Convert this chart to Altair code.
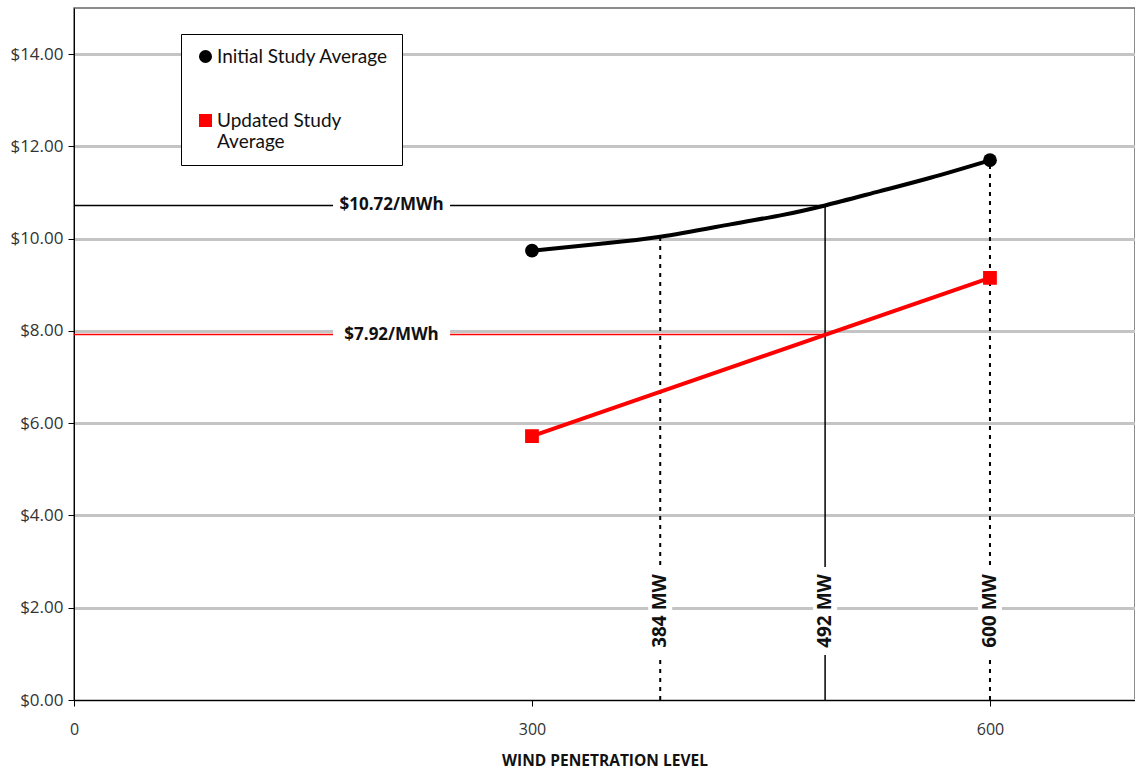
import altair as alt
import pandas as pd

# Integration cost ($/MWh) against wind penetration (MW)
series_names = ["Initial Study Average", "Updated Study Average"]
series_colors = ["black", "red"]
series_shapes = ["circle", "square"]

initial_mw = [300, 345, 384, 430, 462, 492, 528, 561, 600]
initial_cost = [9.74, 9.89, 10.04, 10.31, 10.50, 10.72, 11.03, 11.32, 11.70]

updated_mw = [300, 600]
updated_cost = [5.72, 9.15]

# study end points carry markers
marker_mw = [300, 600, 300, 600]
marker_cost = [9.74, 11.70, 5.72, 9.15]
marker_series = [series_names[0], series_names[0], series_names[1], series_names[1]]

# penetration levels called out with vertical guides
guide_mw = [384, 492, 600]
guide_top = [10.04, 10.72, 11.70]
guide_labels = ["384 MW", "492 MW", "600 MW"]
guide_solid = [False, True, False]
guide_label_cost = 1.93

level_cost = [10.72, 7.92]
level_labels = ["$10.72/MWh", "$7.92/MWh"]
level_colors = ["black", "red"]
level_end_mw = 492
level_label_mw = 208

y_ticks = [0, 2, 4, 6, 8, 10, 12, 14]
x_ticks = [0, 300, 600]

FONT = "Open Sans"

x_scale = alt.Scale(domain=[0, 695], nice=False, zero=False)
y_scale = alt.Scale(domain=[0, 15], nice=False)

initial_df = pd.DataFrame({"mw": initial_mw, "cost": initial_cost})
updated_df = pd.DataFrame({"mw": updated_mw, "cost": updated_cost})
marker_df = pd.DataFrame({"mw": marker_mw, "cost": marker_cost, "series": marker_series})
guide_df = pd.DataFrame({"mw": guide_mw, "top": guide_top, "label": guide_labels,
                         "solid": guide_solid, "base": [0] * 3,
                         "ly": [guide_label_cost] * 3})
level_df = pd.DataFrame({"cost": level_cost, "label": level_labels, "color": level_colors,
                         "x0": [0, 0], "x1": [level_end_mw] * 2,
                         "lx": [level_label_mw] * 2})

x_enc = alt.X("mw:Q", scale=x_scale,
              axis=alt.Axis(values=x_ticks, grid=False, title="WIND PENETRATION LEVEL",
                            labelFontSize=16, labelColor="#333", labelPadding=15,
                            labelFlush=False, labelFont=FONT,
                            tickSize=6, tickColor="black", domainColor="black",
                            titleFontSize=15.5, titleFontWeight="bold", titleFont=FONT,
                            titleColor="#111", titlePadding=16))
y_enc = alt.Y("cost:Q", scale=y_scale,
              axis=alt.Axis(values=y_ticks, format="$.2f", title=None,
                            grid=True, gridColor="#c4c4c4", gridWidth=3,
                            labelFontSize=17, labelColor="#333", labelFont=FONT,
                            labelFlush=False,
                            tickSize=6, tickColor="black", domainColor="black",
                            labelPadding=5))

initial_line = alt.Chart(initial_df).mark_line(
    color="black", strokeWidth=4, interpolate="natural"
).encode(x=x_enc, y=y_enc)

updated_line = alt.Chart(updated_df).mark_line(
    color="red", strokeWidth=4
).encode(x="mw:Q", y="cost:Q")

level_rules = alt.Chart(level_df).mark_rule(strokeWidth=1.5).encode(
    x="x0:Q", x2="x1:Q", y="cost:Q",
    color=alt.Color("color:N", scale=None),
)

guide_dotted = alt.Chart(guide_df).transform_filter("!datum.solid").mark_rule(
    color="black", strokeWidth=2, strokeDash=[4, 5]
).encode(x="mw:Q", y="base:Q", y2="top:Q")

guide_solid_rule = alt.Chart(guide_df).transform_filter("datum.solid").mark_rule(
    color="black", strokeWidth=1.5
).encode(x="mw:Q", y="base:Q", y2="top:Q")

markers = alt.Chart(marker_df).mark_point(filled=True, opacity=1, size=190).encode(
    x="mw:Q", y="cost:Q",
    color=alt.Color("series:N", scale=alt.Scale(domain=series_names, range=series_colors),
                    legend=alt.Legend(
                        title=None, orient="none", legendX=107, legendY=26,
                        strokeColor="black", fillColor="white", padding=13,
                        labelFont="Lato", labelFontSize=19, labelColor="#111",
                        labelLimit=400, rowPadding=44, symbolSize=170,
                        symbolOffset=2, labelOffset=2,
                        labelExpr="datum.label == 'Updated Study Average' ? ['Updated Study', 'Average'] : datum.label")),
    shape=alt.Shape("series:N", scale=alt.Scale(domain=series_names, range=series_shapes)),
)

level_backs = alt.Chart(level_df).mark_rect(color="white", width=117, height=20).encode(
    x="lx:Q", y="cost:Q")
level_text = alt.Chart(level_df).mark_text(
    font=FONT, fontSize=17, fontWeight="bold", color="#111"
).encode(x="lx:Q", y="cost:Q", text="label:N")

guide_backs = alt.Chart(guide_df).mark_rect(color="white", width=24, height=88).encode(
    x="mw:Q", y="ly:Q")
guide_text = alt.Chart(guide_df).mark_text(
    font=FONT, fontSize=19, fontWeight="bold", color="#111", angle=270
).encode(x="mw:Q", y="ly:Q", text="label:N")

chart = alt.layer(
    level_rules, guide_dotted, guide_solid_rule,
    initial_line, updated_line,
    level_backs, level_text, guide_backs, guide_text,
    markers,
).properties(
    width=1061, height=692,
    autosize=alt.AutoSizeParams(type="none"),
    padding={"left": 74, "top": 8, "right": 0, "bottom": 69},
).configure_view(stroke="#666", strokeWidth=1.5)

chart.save("out.html", embed_options={"renderer": "svg", "actions": False})
